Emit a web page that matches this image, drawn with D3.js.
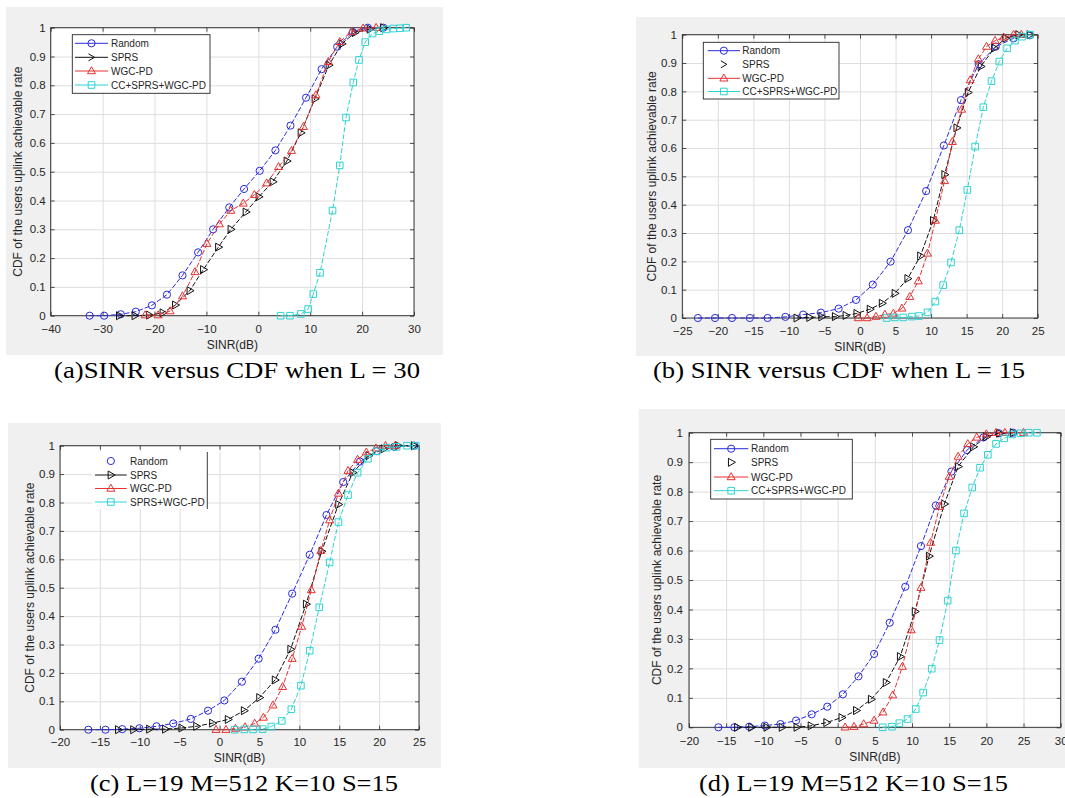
<!DOCTYPE html>
<html><head><meta charset="utf-8">
<script src="https://cdn.jsdelivr.net/npm/d3@7"></script>
<style>body{margin:0;background:#fff;} svg{display:block;}</style>
</head><body>
<svg id="fig" width="1065" height="798"></svg>
<script>
// ---------------- data ----------------
const seriesNames  = ["Random", "SPRS", "WGC-PD", "CC+SPRS+WGC-PD"];
const seriesNamesC = ["Random", "SPRS", "WGC-PD", "SPRS+WGC-PD"];
const yTickValues = [0, 0.1, 0.2, 0.3, 0.4, 0.5, 0.6, 0.7, 0.8, 0.9, 1];
const yTickLabels = ["0", "0.1", "0.2", "0.3", "0.4", "0.5", "0.6", "0.7", "0.8", "0.9", "1"];
const xTicksA = [-40, -30, -20, -10, 0, 10, 20, 30];
const xTicksB = [-25, -20, -15, -10, -5, 0, 5, 10, 15, 20, 25];
const xTicksC = [-20, -15, -10, -5, 0, 5, 10, 15, 20, 25];
const xTicksD = [-20, -15, -10, -5, 0, 5, 10, 15, 20, 25, 30];
const xAxisLabel = "SINR(dB)";
const yAxisLabel = "CDF of the users uplink achievable rate";
const captions = ["(a)SINR versus CDF when L = 30", "(b) SINR versus CDF when L = 15",
                  "(c) L=19 M=512 K=10 S=15", "(d) L=19 M=512 K=10 S=15"];

// panel (a)
const aRandom = [[-32.5,0],[-29.7,0],[-26.5,0.005],[-23.6,0.014],[-20.5,0.036],[-17.6,0.073],[-14.6,0.14],[-11.6,0.22],[-8.7,0.30],[-5.6,0.376],[-2.75,0.44],[0.27,0.503],[3.3,0.574],[6.2,0.66],[9.2,0.757],[12.2,0.856],[15.2,0.934],[18.2,0.985],[21.1,1.0],[24.1,1.0]];
const aSPRS = [[-26.8,0],[-23.8,0],[-21.0,0.002],[-18.4,0.01],[-16.0,0.037],[-13.2,0.087],[-10.6,0.16],[-7.7,0.238],[-5.3,0.30],[-2.4,0.36],[0.1,0.413],[2.8,0.465],[5.5,0.537],[8.2,0.635],[10.9,0.753],[13.6,0.87],[16.1,0.944],[18.6,0.983],[21.5,0.995],[24.1,1.0]];
const aWGC = [[-21.8,0.002],[-19.3,0.002],[-17.0,0.016],[-14.6,0.068],[-12.2,0.152],[-9.9,0.25],[-7.5,0.318],[-5.3,0.365],[-2.9,0.39],[-0.75,0.42],[1.6,0.46],[3.9,0.517],[6.4,0.573],[8.7,0.656],[11.1,0.766],[13.5,0.882],[15.7,0.951],[18.0,0.986],[20.2,0.998],[22.7,1.0]];
const aCC = [[4.3,0],[6.1,0],[8.2,0.006],[9.6,0.023],[10.6,0.075],[11.9,0.149],[14.3,0.365],[15.7,0.522],[16.9,0.688],[18.3,0.81],[19.4,0.888],[20.6,0.95],[22.0,0.98],[23.3,0.988],[24.7,0.994],[26.0,0.997],[27.3,0.998],[28.5,1.0]];

// panel (b)
const bRandom = [[-22.8,0],[-20.4,0],[-18.0,0],[-15.5,0],[-13.0,0],[-10.5,0.004],[-8.0,0.012],[-5.5,0.019],[-3.0,0.033],[-0.56,0.064],[1.8,0.118],[4.3,0.199],[6.75,0.31],[9.3,0.448],[11.8,0.609],[14.2,0.769],[16.7,0.896],[19.1,0.958],[21.6,0.987],[23.9,0.998]];
const bSPRS = [[-8.9,0],[-7.1,0.002],[-5.4,0.004],[-3.5,0.005],[-2.0,0.009],[-0.47,0.016],[1.4,0.031],[3.1,0.052],[4.9,0.087],[6.7,0.139],[8.5,0.219],[10.3,0.344],[11.9,0.506],[13.6,0.671],[15.2,0.796],[17.0,0.888],[18.9,0.953],[20.5,0.988],[22.3,1.0],[23.9,1.0]];
const bWGC = [[-0.24,0],[1.0,0],[2.25,0.005],[3.5,0.012],[4.7,0.016],[5.9,0.034],[7.0,0.075],[8.2,0.13],[9.5,0.228],[10.6,0.344],[11.9,0.484],[13.0,0.622],[14.3,0.736],[15.5,0.84],[16.65,0.914],[17.8,0.958],[19.0,0.979],[20.2,0.991],[21.6,1.0],[22.7,1.0]];
const bCC = [[3.75,0],[4.9,0.002],[6.1,0.002],[7.3,0.005],[8.3,0.007],[9.5,0.02],[10.6,0.058],[11.7,0.116],[12.8,0.196],[13.97,0.31],[15.1,0.452],[16.2,0.605],[17.35,0.744],[18.5,0.836],[19.6,0.905],[20.7,0.952],[21.8,0.979],[22.8,0.993],[23.9,1.0]];

// panel (c)
const cRandom = [[-16.45,0],[-14.3,0],[-12.2,0.002],[-10.05,0.005],[-7.9,0.012],[-5.8,0.022],[-3.6,0.038],[-1.45,0.067],[0.6,0.103],[2.8,0.169],[4.9,0.25],[7.0,0.352],[9.1,0.479],[11.3,0.616],[13.4,0.756],[15.5,0.872],[17.6,0.944],[19.7,0.981],[21.9,0.996],[24.4,1.0]];
const cSPRS = [[-12.7,0],[-10.8,0],[-8.8,0.002],[-6.8,0.002],[-4.75,0.006],[-2.9,0.012],[-0.9,0.023],[1.06,0.036],[3.07,0.067],[5.0,0.113],[6.95,0.175],[8.9,0.283],[10.85,0.442],[12.8,0.628],[14.9,0.793],[16.7,0.905],[18.7,0.965],[20.6,0.989],[22.4,1.0],[24.4,1.0]];
const cWGC = [[-0.44,0],[0.8,0],[2.0,0.004],[3.2,0.009],[4.4,0.022],[5.5,0.043],[6.7,0.086],[7.9,0.151],[9.1,0.25],[10.3,0.363],[11.5,0.492],[12.7,0.63],[13.8,0.738],[14.9,0.832],[16.1,0.912],[17.3,0.951],[18.4,0.977],[19.6,0.991],[20.8,1.0],[22.0,1.0]];
const cCC = [[1.9,0],[3.1,0.001],[4.2,0.001],[5.4,0.002],[6.5,0.011],[7.8,0.031],[9.0,0.072],[10.2,0.155],[11.3,0.278],[12.5,0.431],[13.8,0.589],[14.9,0.731],[16.1,0.826],[17.3,0.905],[18.6,0.954],[19.7,0.98],[20.95,0.993],[22.2,0.996],[23.5,1.0],[24.6,1.0]];

// panel (d)
const dRandom = [[-16.05,0],[-13.9,0],[-11.9,0.002],[-9.8,0.006],[-7.7,0.011],[-5.6,0.023],[-3.5,0.044],[-1.4,0.07],[0.7,0.112],[2.8,0.173],[4.9,0.249],[7.0,0.355],[9.1,0.477],[11.2,0.615],[13.2,0.753],[15.3,0.868],[17.4,0.941],[19.6,0.984],[21.7,0.998],[23.6,1.0]];
const dSPRS = [[-13.5,0],[-11.6,0],[-9.55,0],[-7.5,0],[-5.5,0],[-3.6,0.005],[-1.5,0.016],[0.54,0.033],[2.5,0.057],[4.5,0.095],[6.5,0.152],[8.4,0.24],[10.4,0.393],[12.3,0.581],[14.35,0.758],[16.2,0.885],[18.25,0.952],[20.0,0.986],[21.75,0.998],[23.6,1.0]];
const dWGC = [[1.0,0],[2.2,0.002],[3.5,0.011],[4.9,0.023],[6.1,0.051],[7.4,0.109],[8.7,0.206],[9.9,0.33],[11.2,0.474],[12.5,0.627],[13.7,0.749],[15.0,0.851],[16.2,0.919],[17.5,0.962],[18.7,0.984],[20.0,0.995],[21.3,1.0],[22.5,1.0],[25.0,1.0]];
const dCC = [[6.05,0],[7.3,0.002],[8.3,0.014],[9.4,0.028],[10.5,0.062],[11.5,0.118],[12.65,0.199],[13.7,0.296],[14.8,0.43],[15.9,0.6],[17.0,0.726],[18.1,0.814],[19.15,0.881],[20.2,0.925],[21.3,0.962],[22.4,0.981],[23.5,0.994],[24.6,0.998],[25.7,1.0],[26.8,1.0]];

// ---------------- style ----------------
const seriesColors = ["#2b2be0", "#111111", "#e63232", "#2ed3d3"];
const seriesShapes = ["circle", "tright", "tup", "square"];
const axisColor = "#262626";
const gridColor = "#dedede";
const bgColor = "#f0f0f0";
const sansFont = "'Liberation Sans', Arial, Helvetica, sans-serif";
const serifFont = "'Liberation Serif', 'Times New Roman', Times, serif";

const panels = [
  { bg:[6,7,443,355], plot:[50.7,27.7,414,315.7], xDomain:[-40,30], xTicks:xTicksA,
    data:[aRandom,aSPRS,aWGC,aCC], names:seriesNames, xPad:9, yPad:5, yLabelX:22.3, xLabelY:349,
    legend:{box:[72.3,34.7,210,93.3], rows:[43.3,57.3,71,85], line:[75,108], tx:111, markerOnly:[], chevron:true},
    caption:captions[0], capX:54, capY:377.7, capW:366 },
  { bg:[636,17,1065,356], plot:[682.3,34.7,1037.7,318], xDomain:[-25,25], xTicks:xTicksB,
    data:[bRandom,bSPRS,bWGC,bCC], names:seriesNames, xPad:9, yPad:5.3, yLabelX:656, xLabelY:351,
    legend:{box:[703.3,42.3,839,99], rows:[50.7,64.3,78.3,91.5], line:[707.7,740], tx:742.3, markerOnly:[1], chevron:true},
    caption:captions[1], capX:653, capY:377.7, capW:372 },
  { bg:[8,423,441,768], plot:[60,445.7,419,729.7], xDomain:[-20,25], xTicks:xTicksC,
    data:[cRandom,cSPRS,cWGC,cCC], names:seriesNamesC, xPad:8, yPad:5, yLabelX:33.6, xLabelY:762,
    legend:{box:null, rightLine:[207.3,452,509], rows:[461,475,488.5,502], line:[95,126.7], tx:130, markerOnly:[0], chevron:false},
    caption:captions[2], capX:90, capY:790.7, capW:308 },
  { bg:[638.7,409,1065,768], plot:[689,432.7,1060.7,727.3], xDomain:[-20,30], xTicks:xTicksD,
    data:[dRandom,dSPRS,dWGC,dCC], names:seriesNames, xPad:10, yPad:6, yLabelX:661, xLabelY:761,
    legend:{box:[710.7,439.3,852.3,499], rows:[448.7,462.3,477,490.7], line:[714,748.3], tx:751, markerOnly:[1], chevron:false},
    caption:captions[3], capX:699, capY:790.7, capW:309 }
];

const svg = d3.select("#fig");

function markerPath(shape) {
  switch (shape) {
    case "tup": return "M0,-4.3L4,2.7L-4,2.7Z";
    case "tright": return "M4.3,0L-2.7,-4L-2.7,4Z";
    case "square": return "M-3.3,-3.3h6.6v6.6h-6.6Z";
    case "chevron": return "M-3,-3.5L3,0L-3,3.5";
  }
  return null;
}
function drawMarker(g, shape, x, y, color) {
  if (shape === "circle") {
    g.append("circle").attr("cx", x).attr("cy", y).attr("r", 3.6)
      .attr("fill", "none").attr("stroke", color).attr("stroke-width", 1);
  } else {
    g.append("path").attr("d", markerPath(shape)).attr("transform", `translate(${x},${y})`)
      .attr("fill", "none").attr("stroke", color).attr("stroke-width", 1);
  }
}

panels.forEach(p => {
  const g = svg.append("g");
  // figure background
  g.append("rect").attr("x", p.bg[0]).attr("y", p.bg[1])
    .attr("width", p.bg[2]-p.bg[0]).attr("height", p.bg[3]-p.bg[1]).attr("fill", bgColor);
  const [L, T, R, B] = p.plot;
  g.append("rect").attr("x", L).attr("y", T).attr("width", R-L).attr("height", B-T).attr("fill", "#fff");

  const x = d3.scaleLinear().domain(p.xDomain).range([L, R]);
  const y = d3.scaleLinear().domain([0, 1]).range([B, T]);

  // grid
  g.append("g").attr("transform", `translate(0,${B})`)
    .call(d3.axisBottom(x).tickValues(p.xTicks).tickSize(-(B-T)).tickFormat(""))
    .call(s => { s.select(".domain").remove(); s.selectAll("line").attr("stroke", gridColor); });
  g.append("g").attr("transform", `translate(${L},0)`)
    .call(d3.axisLeft(y).tickValues(yTickValues).tickSize(-(R-L)).tickFormat(""))
    .call(s => { s.select(".domain").remove(); s.selectAll("line").attr("stroke", gridColor); });

  // axes with inside ticks
  const styleAxis = s => {
    s.select(".domain").remove();
    s.selectAll("line").attr("stroke", axisColor).attr("stroke-width", 0.8);
    s.selectAll("text").attr("fill", axisColor).attr("font-family", sansFont).attr("font-size", "11.5px");
  };
  g.append("g").attr("transform", `translate(0,${B})`)
    .call(d3.axisBottom(x).tickValues(p.xTicks).tickSizeInner(-4).tickSizeOuter(0).tickPadding(p.xPad).tickFormat(d3.format("d")))
    .call(styleAxis);
  g.append("g").attr("transform", `translate(0,${T})`)
    .call(d3.axisTop(x).tickValues(p.xTicks).tickSizeInner(-4).tickSizeOuter(0).tickFormat(""))
    .call(styleAxis);
  g.append("g").attr("transform", `translate(${L},0)`)
    .call(d3.axisLeft(y).tickValues(yTickValues).tickSizeInner(-4).tickSizeOuter(0).tickPadding(p.yPad)
      .tickFormat((d, i) => yTickLabels[i]))
    .call(styleAxis);
  g.append("g").attr("transform", `translate(${R},0)`)
    .call(d3.axisRight(y).tickValues(yTickValues).tickSizeInner(-4).tickSizeOuter(0).tickFormat(""))
    .call(styleAxis);
  g.append("rect").attr("x", L).attr("y", T).attr("width", R-L).attr("height", B-T)
    .attr("fill", "none").attr("stroke", axisColor).attr("stroke-width", 0.9);

  // axis labels
  g.append("text").attr("x", (L+R)/2).attr("y", p.xLabelY).attr("text-anchor", "middle")
    .attr("font-family", sansFont).attr("font-size", "12px").attr("fill", axisColor).text(xAxisLabel);
  g.append("text").attr("transform", `translate(${p.yLabelX},${(T+B)/2}) rotate(-90)`)
    .attr("text-anchor", "middle").attr("font-family", sansFont).attr("font-size", "12px")
    .attr("fill", axisColor).text(yAxisLabel);

  // series
  const line = d3.line().x(d => x(d[0])).y(d => y(d[1]));
  p.data.forEach((ser, i) => {
    const sg = g.append("g");
    sg.append("path").datum(ser).attr("d", line).attr("fill", "none")
      .attr("stroke", seriesColors[i]).attr("stroke-width", 1).attr("stroke-dasharray", "5,2");
    ser.forEach(d => drawMarker(sg, seriesShapes[i], x(d[0]), y(d[1]), seriesColors[i]));
  });

  // legend
  const lg = p.legend;
  const leg = g.append("g");
  if (lg.box) {
    leg.append("rect").attr("x", lg.box[0]).attr("y", lg.box[1])
      .attr("width", lg.box[2]-lg.box[0]).attr("height", lg.box[3]-lg.box[1])
      .attr("fill", "#fff").attr("stroke", axisColor).attr("stroke-width", 0.9);
  } else {
    leg.append("rect").attr("x", lg.line[0]-3).attr("y", lg.rightLine[1])
      .attr("width", lg.rightLine[0]-lg.line[0]+3).attr("height", lg.rightLine[2]-lg.rightLine[1]).attr("fill", "#fff");
    leg.append("line").attr("x1", lg.rightLine[0]).attr("x2", lg.rightLine[0])
      .attr("y1", lg.rightLine[1]).attr("y2", lg.rightLine[2]).attr("stroke", axisColor).attr("stroke-width", 0.9);
  }
  p.names.forEach((name, i) => {
    const ry = lg.rows[i];
    const mx = (lg.line[0]+lg.line[1])/2;
    if (!lg.markerOnly.includes(i)) {
      leg.append("line").attr("x1", lg.line[0]).attr("x2", lg.line[1]).attr("y1", ry).attr("y2", ry)
        .attr("stroke", seriesColors[i]).attr("stroke-width", 1);
    }
    const shape = (i === 1 && lg.chevron) ? "chevron" : seriesShapes[i];
    drawMarker(leg, shape, mx, ry, seriesColors[i]);
    leg.append("text").attr("x", lg.tx).attr("y", ry).attr("dy", "0.35em")
      .attr("font-family", sansFont).attr("font-size", "10px").attr("fill", axisColor).text(name);
  });

  // caption
  svg.append("text").attr("x", p.capX).attr("y", p.capY)
    .attr("font-family", serifFont).attr("font-size", "24px").attr("fill", "#000")
    .attr("textLength", p.capW).attr("lengthAdjust", "spacingAndGlyphs").text(p.caption);
});
</script>
</body></html>
